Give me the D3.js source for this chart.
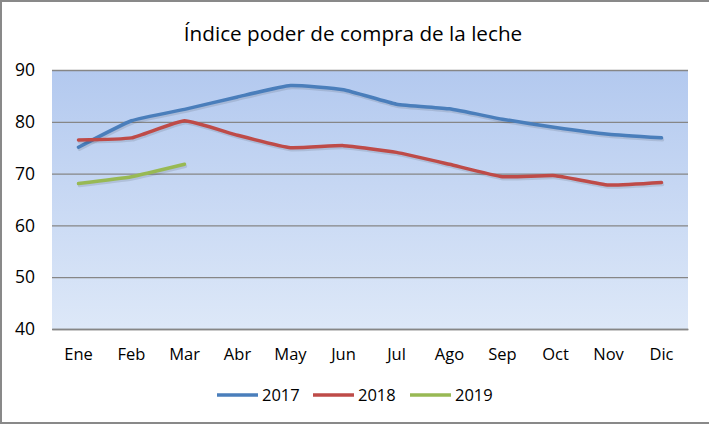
<!DOCTYPE html>
<html><head><meta charset="utf-8">
<script src="https://cdn.jsdelivr.net/npm/d3@7/dist/d3.min.js"></script>
<style>body{margin:0;background:#fff}svg{display:block}</style>
</head><body>
<svg id="c" width="709" height="426"></svg>
<script>
const months = ["Ene","Feb","Mar","Abr","May","Jun","Jul","Ago","Sep","Oct","Nov","Dic"];
const yTicks = [40,50,60,70,80,90];
const s2017 = [75.1,80.2,82.4,84.8,87.0,86.2,83.4,82.5,80.5,78.9,77.6,76.9];
const s2018 = [76.5,76.9,80.2,77.4,75.0,75.4,74.1,71.8,69.4,69.6,67.8,68.3];
const s2019 = [68.1,69.4,71.8];
const seriesNames = ["2017","2018","2019"];
const seriesColors = ["#4a7ebb","#be4b48","#98b954"];

const svg = d3.select("#c");
const font = "'Open Sans', 'Liberation Sans', sans-serif";
const m = {l:52, r:21, t:70, b:97};
const W = 709, H = 426;
const pw = W - m.l - m.r, ph = H - m.t - m.b;

const defs = svg.append("defs");
const g0 = defs.append("linearGradient").attr("id","bg").attr("x1",0).attr("y1",0).attr("x2",0).attr("y2",1);
g0.append("stop").attr("offset","0%").attr("stop-color","#b3c9ef");
g0.append("stop").attr("offset","100%").attr("stop-color","#dde8f8");

svg.append("rect").attr("x",1).attr("y",1).attr("width",W+2).attr("height",H-4)
  .attr("fill","#fff").attr("stroke","#898989").attr("stroke-width",2);

svg.append("text").attr("x",353).attr("y",41).attr("text-anchor","middle")
  .attr("font-family",font).attr("font-size",20.7).attr("fill","#000")
  .text("Índice poder de compra de la leche");

const x = d3.scaleBand().domain(months).range([m.l, m.l+pw]);
const y = d3.scaleLinear().domain([40,90]).range([m.t+ph, m.t]);

svg.append("rect").attr("x",m.l).attr("y",m.t).attr("width",pw).attr("height",ph).attr("fill","url(#bg)");

// gridlines
const ga = svg.append("g").attr("transform",`translate(${m.l},0)`)
  .call(d3.axisLeft(y).tickValues(yTicks).tickSize(-pw).tickFormat(""));
ga.select(".domain").remove();
ga.selectAll("line").attr("stroke","#868686").attr("stroke-width",1.3);

// y labels
const yl = svg.append("g").attr("transform",`translate(${m.l},0)`)
  .call(d3.axisLeft(y).tickValues(yTicks).tickSize(0).tickPadding(17));
yl.select(".domain").remove();
yl.selectAll("text").attr("font-family",font).attr("font-size",17.5).attr("fill","#000");

// x labels
const xl = svg.append("g").attr("transform",`translate(0,${m.t+ph})`)
  .call(d3.axisBottom(x).tickSize(0).tickPadding(19));
xl.select(".domain").attr("stroke","#868686").attr("stroke-width",1.3);
xl.selectAll("text").attr("font-family",font).attr("font-size",16.5).attr("fill","#000");

const line = d3.line().x((d,i)=>x(months[i])+x.bandwidth()/2).y(d=>y(d)).curve(d3.curveCardinal.tension(0.6));
[s2017,s2018,s2019].forEach((s,k)=>{
  svg.append("path").attr("d",line(s)).attr("fill","none").attr("stroke","rgba(0,0,0,0.10)")
    .attr("stroke-width",3.5).attr("transform","translate(1,2)").attr("stroke-linecap","round");
  svg.append("path").attr("d",line(s)).attr("fill","none").attr("stroke",seriesColors[k])
    .attr("stroke-width",3.5).attr("stroke-linecap","round").attr("stroke-linejoin","round");
});

// legend
const lx = [217,313,410];
seriesNames.forEach((n,k)=>{
  const g = svg.append("g").attr("transform",`translate(${lx[k]},395)`);
  g.append("line").attr("x1",0).attr("x2",41).attr("y1",0).attr("y2",0)
    .attr("stroke",seriesColors[k]).attr("stroke-width",3.5);
  g.append("text").attr("x",45).attr("y",6).attr("font-family",font).attr("font-size",16.5).attr("fill","#000").text(n);
});
</script>
</body></html>
